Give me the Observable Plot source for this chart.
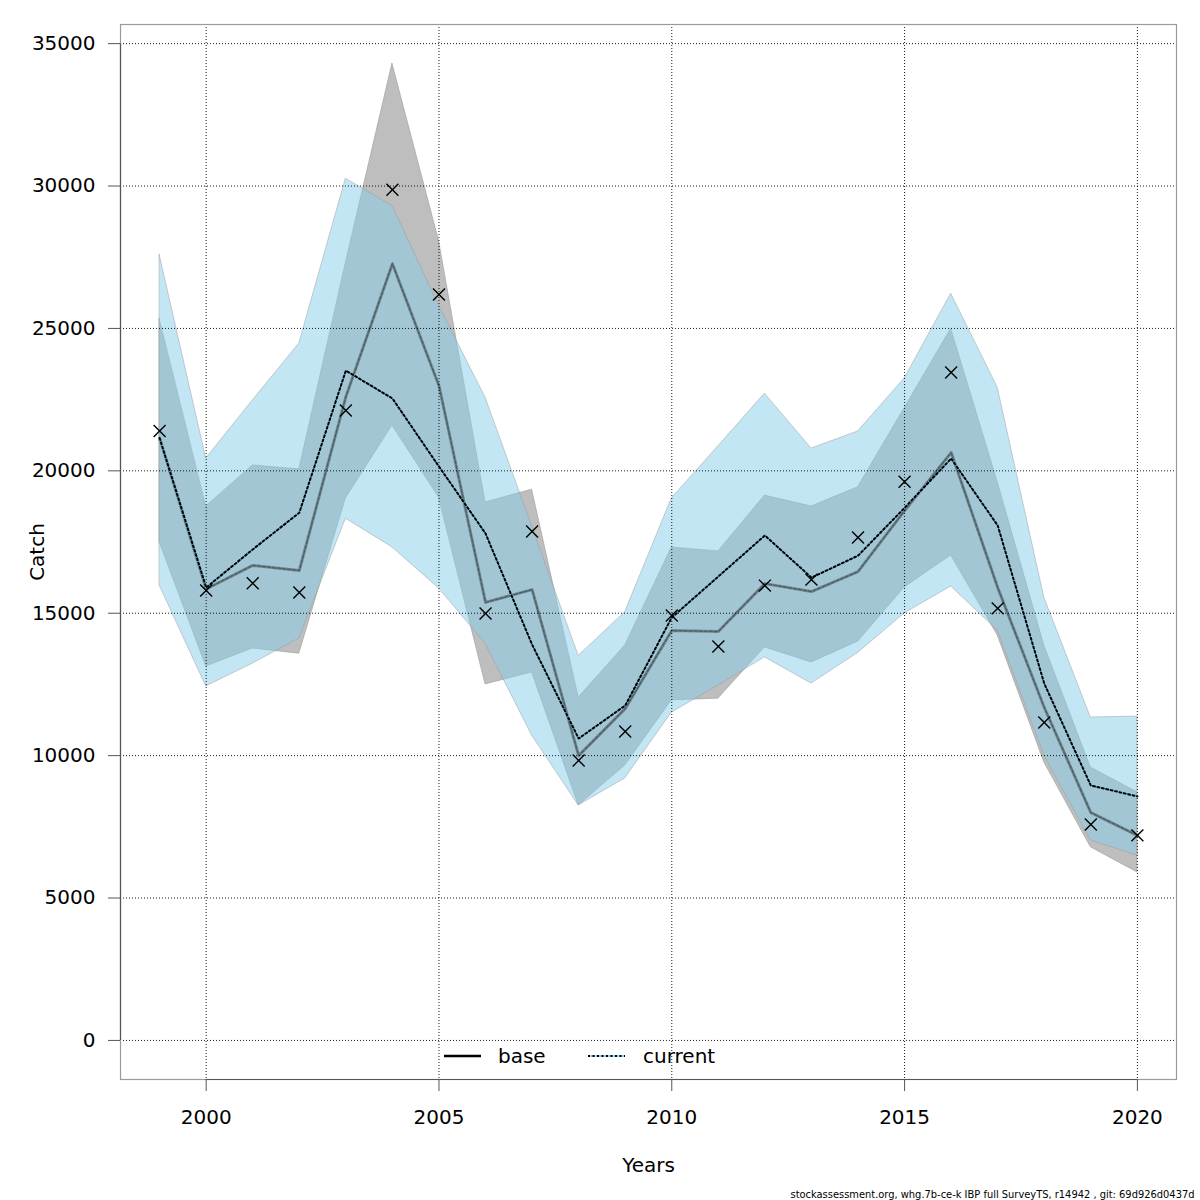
<!DOCTYPE html>
<html><head><meta charset="utf-8">
<script src="https://cdn.jsdelivr.net/npm/d3@7"></script>
<script src="https://cdn.jsdelivr.net/npm/@observablehq/plot@0.6"></script>
<style>
body{margin:0;background:#fff;}
#wrap{position:relative;width:1200px;height:1200px;font-family:"DejaVu Sans",sans-serif;}
#wrap svg{display:block;}
#legend{position:absolute;left:0;top:0;pointer-events:none;}
</style></head><body><div id="wrap"></div>
<script>
const years = [1999,2000,2001,2002,2003,2004,2005,2006,2007,2008,2009,2010,2011,2012,2013,2014,2015,2016,2017,2018,2019,2020];
const observed = [21400,15800,16050,15730,22120,29870,26190,14990,17870,9830,10850,14920,13830,15970,16180,17660,19620,23450,15170,11160,7580,7200];
const baseEst = [21150,15850,16680,16500,22600,27270,22990,15380,15830,10000,11650,14390,14360,16040,15760,16460,18600,20640,15900,11690,8000,7200];
const baseLow = [17490,13130,13760,13580,19030,21590,19060,12500,12920,8250,9650,11940,12000,13800,13270,14000,15900,17030,14220,9760,6780,5900];
const baseHigh = [25330,18750,20190,20050,27300,34300,28080,18890,19340,12040,13870,17310,17170,19130,18750,19420,22200,24990,19600,13870,9580,8710];
const currentEst = [21150,15900,17240,18530,23520,22540,20150,17800,13900,10600,11760,14850,16290,17730,16250,17020,18700,20430,18080,12530,8950,8570];
const currentLow = [15970,12430,13230,14110,18320,17310,15870,13930,10700,8250,9200,11510,12460,13450,12530,13600,14990,15940,14390,10000,7020,6490];
const currentHigh = [27590,20430,22470,24470,30260,29300,25800,22570,18050,13500,15040,19030,20860,22710,20780,21380,23240,26220,22920,15550,11340,11370];
const xTicks = [2000,2005,2010,2015,2020];
const yTicks = [0,5000,10000,15000,20000,25000,30000,35000];
const seriesNames = ["base","current"];
const xTitle = "Years", yTitle = "Catch";
const footer = "stockassessment.org, whg.7b-ce-k IBP full SurveyTS, r14942 , git: 69d926d0437d";

const rows = years.map((yr,i)=>({year:yr, obs:observed[i], base:baseEst[i], bLo:baseLow[i], bHi:baseHigh[i], cur:currentEst[i], cLo:currentLow[i], cHi:currentHigh[i]}));

const xDomain = [1998.16, 2020.84];
const yDomain = [-1372, 35672];

const plot = Plot.plot({
  width:1200, height:1200,
  marginLeft:120, marginRight:24, marginTop:24, marginBottom:121,
  style:{fontFamily:"DejaVu Sans", fontSize:"20px", background:"white", color:"black"},
  x:{domain:xDomain},
  y:{domain:yDomain},
  marks:[
    Plot.areaY(rows,{x:"year", y1:"bLo", y2:"bHi", fill:"#bebebe", stroke:"#9a9a9a", strokeWidth:0.6}),
    Plot.areaY(rows,{x:"year", y1:"cLo", y2:"cHi", fill:"skyblue", fillOpacity:0.5, stroke:"#9a9a9a", strokeWidth:0.6, strokeOpacity:0.8}),
    Plot.gridX(xTicks,{stroke:"#000", strokeOpacity:0.9, strokeDasharray:"1,2", strokeWidth:1}),
    Plot.gridY(yTicks,{stroke:"#000", strokeOpacity:0.9, strokeDasharray:"1,2", strokeWidth:1}),
    Plot.frame({stroke:"#9a9a9a", strokeWidth:1.2}),
    Plot.ruleX([xDomain[0]],{y1:yTicks[0], y2:yTicks[yTicks.length-1], stroke:"#555", strokeWidth:1.2}),
    Plot.ruleY([yDomain[0]],{x1:xTicks[0], x2:xTicks[xTicks.length-1], stroke:"#555", strokeWidth:1.2}),
    Plot.lineY(rows,{x:"year", y:"base", stroke:"black", strokeOpacity:0.3, strokeWidth:3}),
    Plot.lineY(rows,{x:"year", y:"base", stroke:"black", strokeOpacity:0.3, strokeWidth:1.5, strokeDasharray:"3,2"}),
    Plot.lineY(rows,{x:"year", y:"cur", stroke:"skyblue", strokeWidth:2}),
    Plot.lineY(rows,{x:"year", y:"cur", stroke:"black", strokeWidth:2, strokeDasharray:"2,2.5"}),
    Plot.dot(rows,{x:"year", y:"obs", symbol:"times", r:5.5, stroke:"black", strokeWidth:1.4}),
    Plot.axisX(xTicks,{tickSize:12, tickPadding:18, tickFormat:d3.format("d"), label:null, stroke:"#555", fontSize:20}),
    Plot.axisY(yTicks,{tickSize:12, tickPadding:13, tickFormat:d3.format("d"), label:null, stroke:"#555", fontSize:20}),
    Plot.text([yTitle],{frameAnchor:"left", dx:-83, rotate:-90, textAnchor:"middle", lineAnchor:"middle", fontSize:20}),
    Plot.text([xTitle],{frameAnchor:"bottom", dy:86, lineAnchor:"middle", fontSize:20}),
    Plot.text([footer],{frameAnchor:"bottom-right", textAnchor:"end", lineAnchor:"middle", dx:18, dy:115, fontSize:11, fontFamily:"DejaVu Sans Condensed, DejaVu Sans"})
  ]
});
const wrap = document.getElementById("wrap");
wrap.appendChild(plot);
d3.select(plot).selectAll("text").filter(function(){return this.textContent === footer;})
  .attr("textLength", 404).attr("lengthAdjust","spacingAndGlyphs");

// legend overlay
const lg = d3.select(wrap).append("svg").attr("id","legend").attr("width",1200).attr("height",1200)
  .style("font-family","DejaVu Sans").style("font-size","20px");
const ly = 1056;
lg.append("line").attr("x1",444).attr("x2",481).attr("y1",ly).attr("y2",ly).attr("stroke","black").attr("stroke-width",2.5);
lg.append("text").attr("x",498).attr("y",ly).attr("dy","0.35em").text(seriesNames[0]);
lg.append("line").attr("x1",588).attr("x2",625).attr("y1",ly).attr("y2",ly).attr("stroke","skyblue").attr("stroke-width",2);
lg.append("line").attr("x1",588).attr("x2",625).attr("y1",ly).attr("y2",ly).attr("stroke","black").attr("stroke-width",2).attr("stroke-dasharray","2,2.5");
lg.append("text").attr("x",643).attr("y",ly).attr("dy","0.35em").text(seriesNames[1]);
</script></body></html>
